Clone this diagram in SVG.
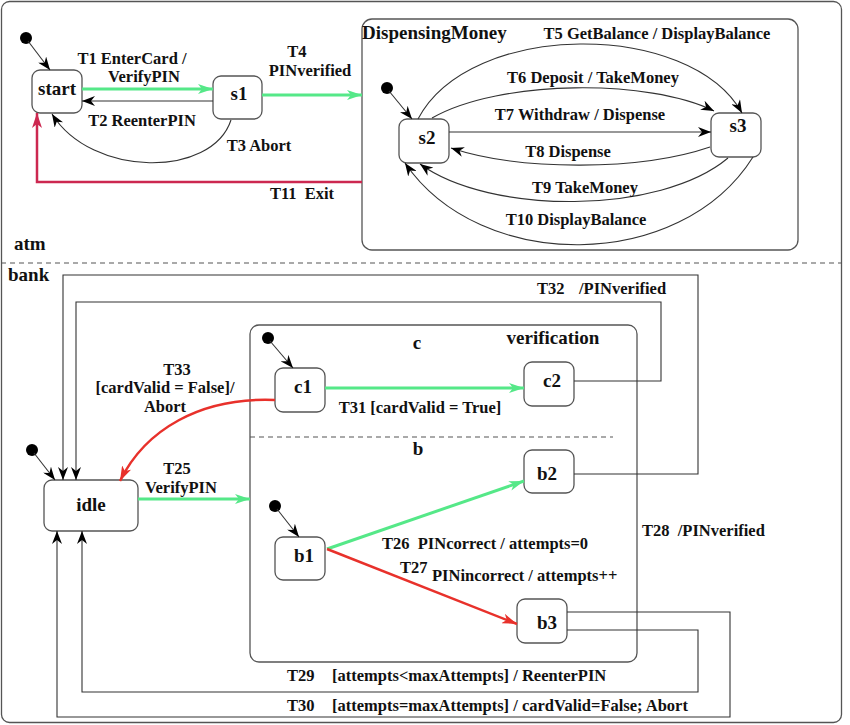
<svg xmlns="http://www.w3.org/2000/svg" width="850" height="725" viewBox="0 0 850 725">
<style>
text{font-family:"Liberation Serif","Times New Roman","DejaVu Serif",serif;font-weight:bold;fill:#111;white-space:pre}
.lb{font-size:16.5px}
.nl{font-size:19px;text-anchor:middle}
.hd{font-size:19px}
.m{text-anchor:middle}
.node{fill:#fff;stroke:#555;stroke-width:1.3}
.box{fill:none;stroke:#555;stroke-width:1.3}
.c{fill:none;stroke:#333;stroke-width:1.1}
.g{fill:none;stroke:#55e888;stroke-width:3}
.r{fill:none;stroke:#e8312b;stroke-width:2.5}
.k{fill:none;stroke:#cc2850;stroke-width:2.5}
.dash{stroke:#555;stroke-width:1.2;stroke-dasharray:5 4;fill:none}
.dot{fill:#000}
</style>
<defs>
<marker id="ab" markerUnits="userSpaceOnUse" markerWidth="14" markerHeight="10" refX="13" refY="5" orient="auto"><path d="M0,0 L13,5 L0,10 L4,5 z" fill="#000"/></marker>
<marker id="ag" markerUnits="userSpaceOnUse" markerWidth="16" markerHeight="10" refX="15" refY="5" orient="auto"><path d="M0,0 L15,5 L0,10 L4,5 z" fill="#55e888"/></marker>
<marker id="ar" markerUnits="userSpaceOnUse" markerWidth="16" markerHeight="10" refX="15" refY="5" orient="auto"><path d="M0,0 L15,5 L0,10 L4,5 z" fill="#e8312b"/></marker>
<marker id="ak" markerUnits="userSpaceOnUse" markerWidth="16" markerHeight="10" refX="15" refY="5" orient="auto"><path d="M0,0 L15,5 L0,10 L4,5 z" fill="#cc2850"/></marker>
</defs>
<rect x="1.5" y="1.5" width="840" height="721" rx="8" fill="#fff" stroke="#555" stroke-width="1.3"/>
<line x1="1" y1="263" x2="842" y2="263" class="dash"/>
<text class="hd" x="14" y="250">atm</text>
<text class="hd" x="8" y="281">bank</text>

<g id="DispensingMoney">
<rect x="362" y="19" width="436" height="231" rx="10" class="box"/>
<text class="hd" x="362" y="39">DispensingMoney</text>
</g>
<g id="verification">
<rect x="250" y="325" width="387" height="337" rx="9" class="box"/>
<line x1="250" y1="437" x2="613" y2="437" class="dash"/>
<text class="hd m" x="553" y="344">verification</text>
<text class="hd m" x="417" y="349">c</text>
<text class="hd m" x="418" y="455">b</text>
</g>

<g id="init-atm"><circle cx="26" cy="38" r="6" class="dot"/></g>
<g id="init-dm"><circle cx="387" cy="88" r="6" class="dot"/></g>
<g id="init-bank"><circle cx="32" cy="450" r="6" class="dot"/></g>
<g id="init-c"><circle cx="268" cy="338" r="6" class="dot"/></g>
<g id="init-b"><circle cx="275" cy="506" r="6" class="dot"/></g>

<g id="start"><rect x="32" y="70" width="50" height="43" rx="8" class="node"/><text class="nl" x="57" y="95">start</text></g>
<g id="s1"><rect x="213" y="76" width="49" height="43" rx="8" class="node"/><text class="nl" x="239" y="100">s1</text></g>
<g id="s2"><rect x="399" y="119" width="50" height="44" rx="8" class="node"/><text class="nl" x="427" y="144">s2</text></g>
<g id="s3"><rect x="711" y="113" width="50" height="44" rx="8" class="node"/><text class="nl" x="738" y="132">s3</text></g>
<g id="idle"><rect x="44" y="480" width="94" height="51" rx="8" class="node"/><text class="nl" x="91" y="511">idle</text></g>
<g id="c1"><rect x="275" y="368" width="50" height="44" rx="8" class="node"/><text class="nl" x="303" y="393">c1</text></g>
<g id="c2"><rect x="524" y="362" width="50" height="44" rx="8" class="node"/><text class="nl" x="552" y="387">c2</text></g>
<g id="b1"><rect x="275" y="537" width="50" height="43" rx="8" class="node"/><text class="nl" x="304" y="562">b1</text></g>
<g id="b2"><rect x="524" y="450" width="50" height="43" rx="8" class="node"/><text class="nl" x="547" y="480">b2</text></g>
<g id="b3"><rect x="517" y="599" width="50" height="44" rx="8" class="node"/><text class="nl" x="547" y="629">b3</text></g>

<g id="connectors">
<path class="c" d="M28,41 L50,70" marker-end="url(#ab)"/>
<path class="c" d="M389,91 L412,119" marker-end="url(#ab)"/>
<path class="c" d="M34,453 L55,480" marker-end="url(#ab)"/>
<path class="c" d="M270,341 L293,368" marker-end="url(#ab)"/>
<path class="c" d="M277,509 L299,537" marker-end="url(#ab)"/>

<path class="g" d="M82,89 L213,89" marker-end="url(#ag)"/>
<path class="c" d="M213,101 L82,101" marker-end="url(#ab)"/>
<path class="c" d="M231,120 C212,178 92,178 52,114" marker-end="url(#ab)"/>
<path class="g" d="M262,95 L362,95" marker-end="url(#ag)"/>
<path class="k" d="M362,182 L37,182 L37,113" marker-end="url(#ak)"/>

<path class="c" d="M418,119 C470,20 690,20 742,113" marker-end="url(#ab)"/>
<path class="c" d="M432,118 C500,79 650,79 714,111" marker-end="url(#ab)"/>
<path class="c" d="M449,132 L711,132" marker-end="url(#ab)"/>
<path class="c" d="M710,147 C640,171 520,171 451,148" marker-end="url(#ab)"/>
<path class="c" d="M728,158 C660,215 490,215 420,164" marker-end="url(#ab)"/>
<path class="c" d="M753,157 C680,273 480,273 405,163" marker-end="url(#ab)"/>

<path class="c" d="M574,474 L698,474 L698,275 L63,275 L63,480" marker-end="url(#ab)"/>
<path class="c" d="M574,381 L661,381 L661,302 L76,302 L76,480" marker-end="url(#ab)"/>
<path class="g" d="M325,388 L524,388" marker-end="url(#ag)"/>
<path class="r" d="M275,400 C200,397 145,430 120,481" marker-end="url(#ar)"/>
<path class="g" d="M138,499 L250,499" marker-end="url(#ag)"/>
<path class="g" d="M327,549 L524,481" marker-end="url(#ag)"/>
<path class="r" d="M327,549 L517,624" marker-end="url(#ar)"/>
<path class="c" d="M567,630 L698,630 L698,692 L82,692 L82,531" marker-end="url(#ab)"/>
<path class="c" d="M567,612 L730,612 L730,717 L57,717 L57,531" marker-end="url(#ab)"/>
</g>

<g id="labels">
<text class="lb m" x="132" y="64">T1 EnterCard /</text>
<text class="lb m" x="144" y="82">VerifyPIN</text>
<text class="lb m" x="142" y="126">T2 ReenterPIN</text>
<text class="lb m" x="259" y="151">T3 Abort</text>
<text class="lb m" x="297" y="57">T4</text>
<text class="lb m" x="310" y="76">PINverified</text>
<text class="lb m" x="302" y="199">T11  Exit</text>
<text class="lb m" x="657" y="39">T5 GetBalance / DisplayBalance</text>
<text class="lb m" x="593" y="83">T6 Deposit / TakeMoney</text>
<text class="lb m" x="580" y="120">T7 Withdraw / Dispense</text>
<text class="lb m" x="568" y="157">T8 Dispense</text>
<text class="lb m" x="585" y="193">T9 TakeMoney</text>
<text class="lb m" x="576" y="225">T10 DisplayBalance</text>
<text class="lb" x="537" y="294">T32</text>
<text class="lb" x="579" y="294">/PINverified</text>
<text class="lb m" x="420" y="413">T31 [cardValid = True]</text>
<text class="lb m" x="177" y="375">T33</text>
<text class="lb m" x="165" y="393">[cardValid = False]/</text>
<text class="lb m" x="165" y="412">Abort</text>
<text class="lb m" x="177" y="474">T25</text>
<text class="lb m" x="181" y="493">VerifyPIN</text>
<text class="lb" x="382" y="549">T26  PINcorrect / attempts=0</text>
<text class="lb" x="400" y="573">T27</text>
<text class="lb" x="432" y="581">PINincorrect / attempts++</text>
<text class="lb" x="642" y="536">T28  /PINverified</text>
<text class="lb" x="287" y="681">T29</text>
<text class="lb" x="332" y="681">[attempts&lt;maxAttempts] / ReenterPIN</text>
<text class="lb" x="287" y="711">T30</text>
<text class="lb" x="332" y="711">[attempts=maxAttempts] / cardValid=False; Abort</text>
</g>
</svg>
